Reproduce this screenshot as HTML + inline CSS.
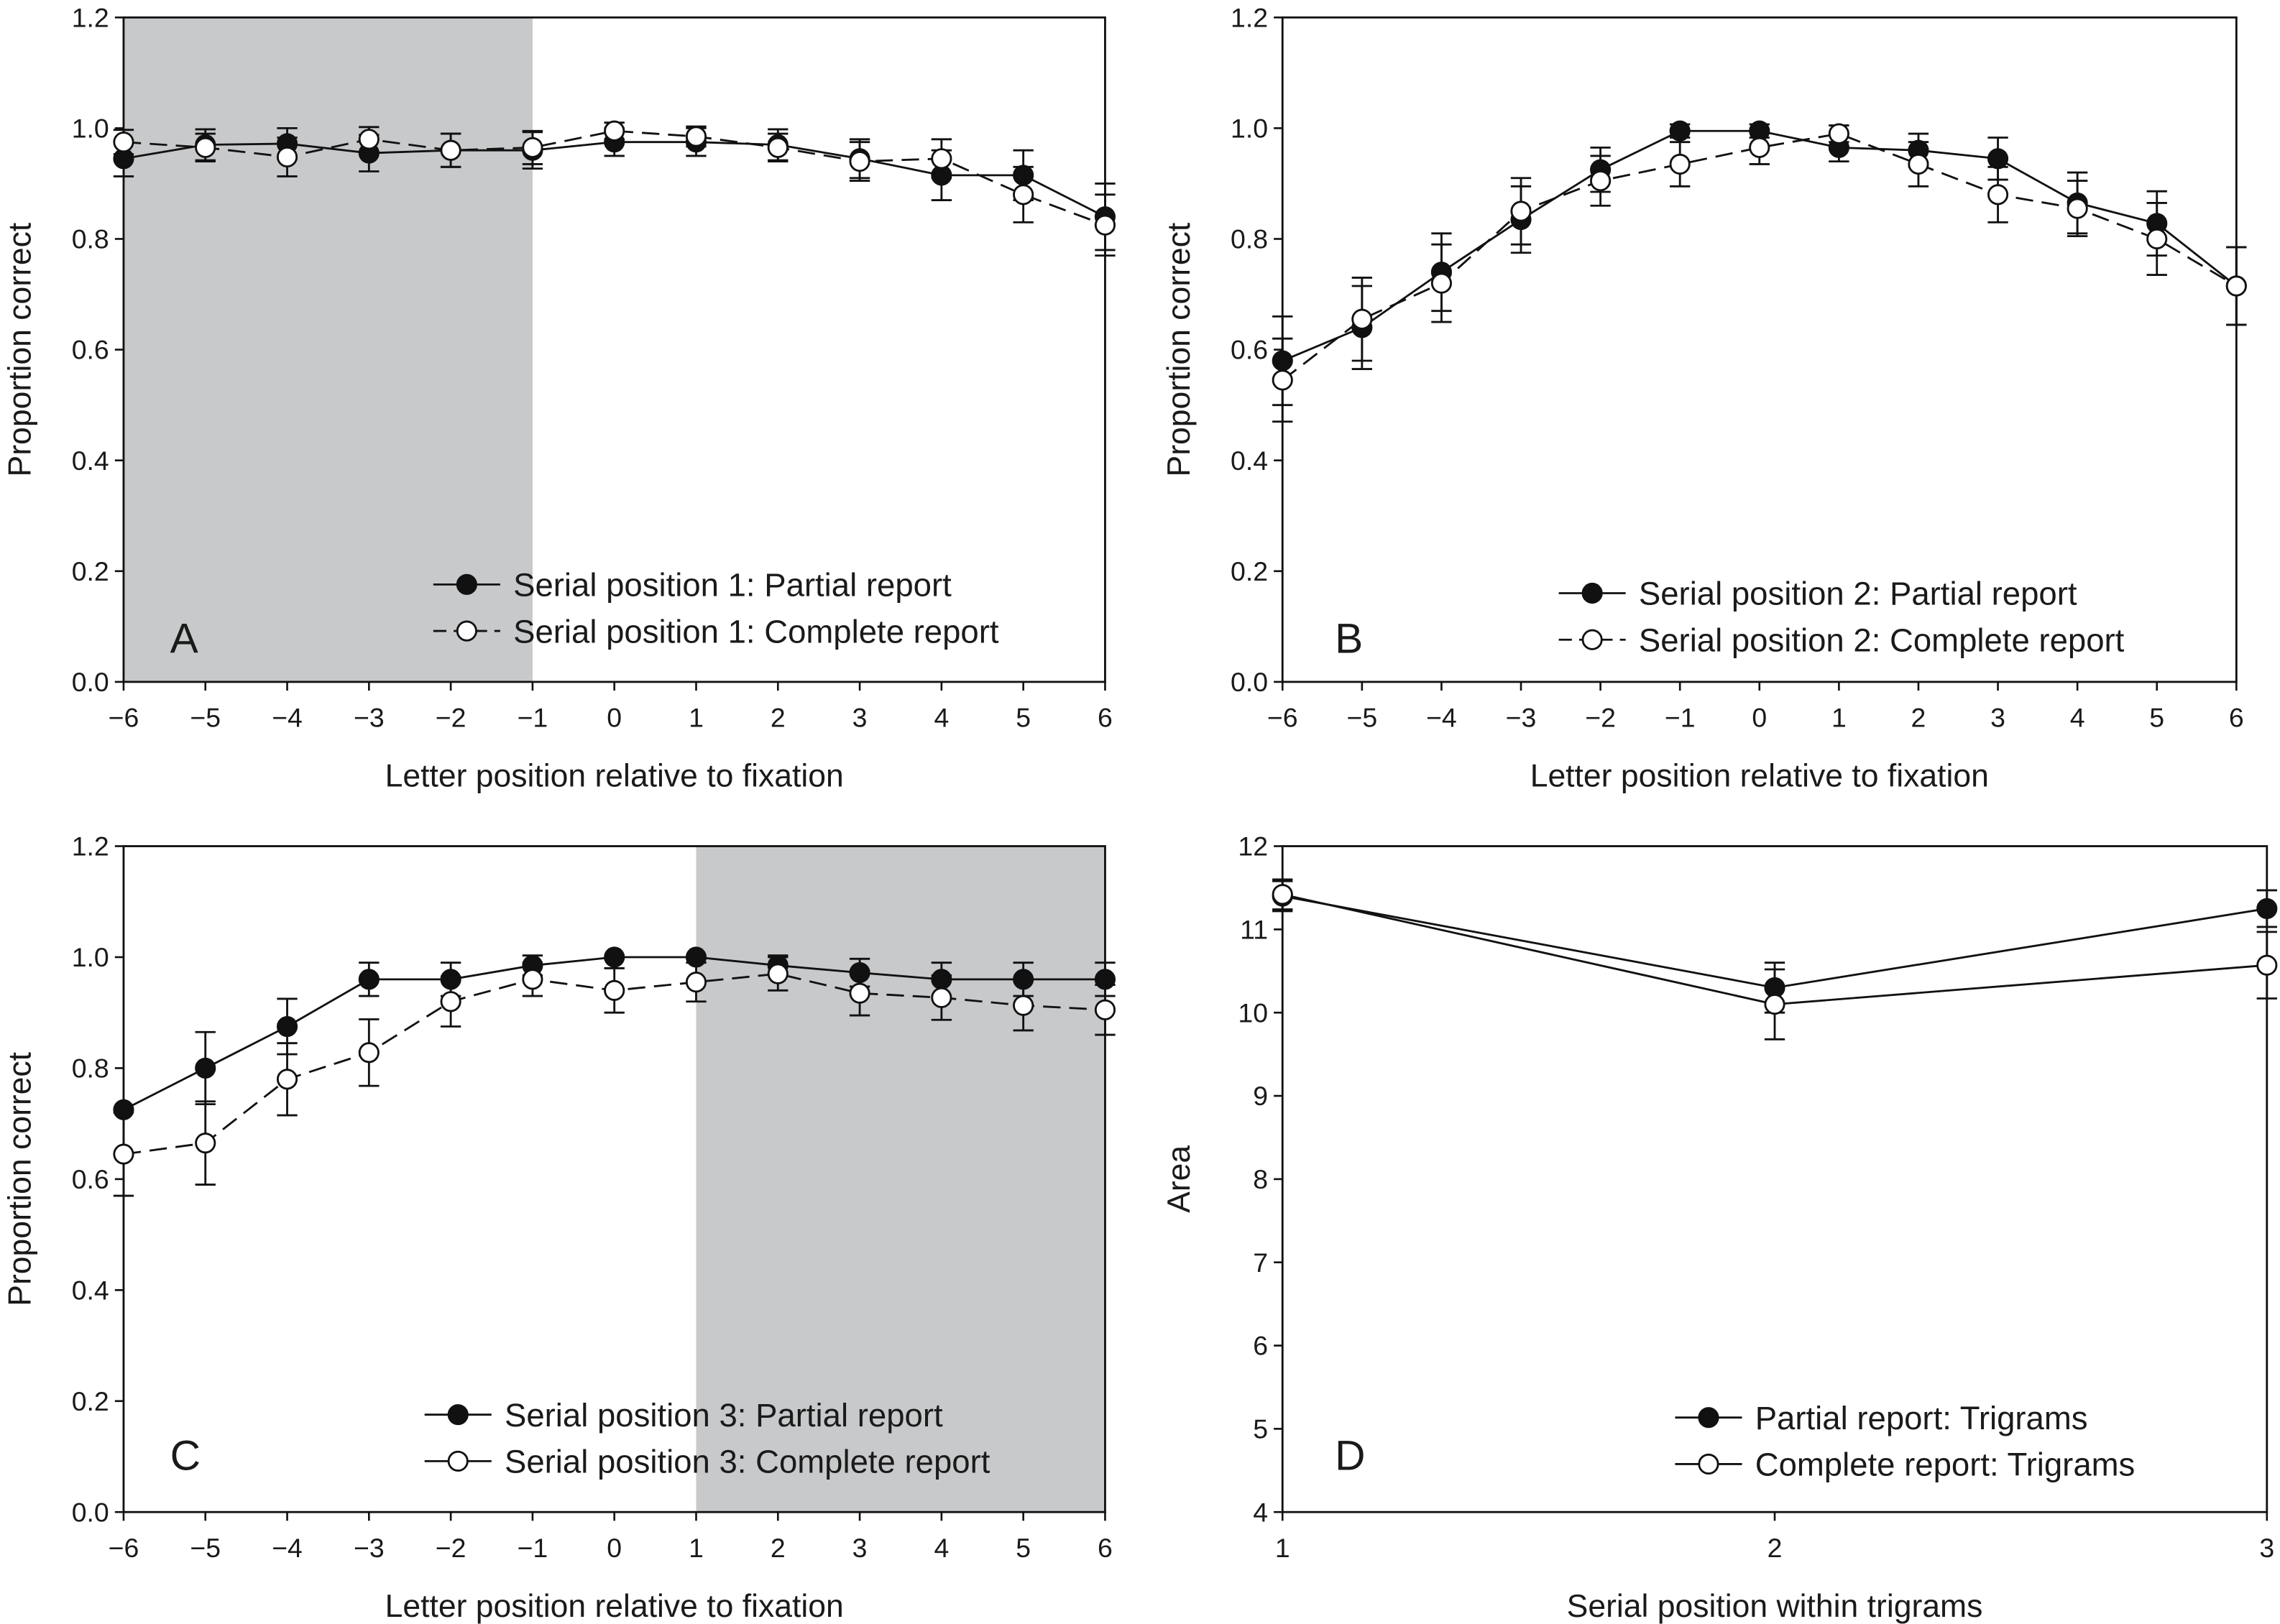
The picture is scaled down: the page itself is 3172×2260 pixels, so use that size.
<!DOCTYPE html>
<html><head><meta charset="utf-8"><style>
html,body{margin:0;padding:0;background:#fff;}
svg{display:block;}
text{font-family:"Liberation Sans",Arial,sans-serif;fill:#1a1a1a;}
</style></head>
<body>
<svg id="fig" width="3172" height="2260" viewBox="0 0 1568 1117" preserveAspectRatio="none" xmlns="http://www.w3.org/2000/svg"></svg>
<script>
// ---- data ----
const letterPositions = [-6,-5,-4,-3,-2,-1,0,1,2,3,4,5,6];
const propTicks = [0.0,0.2,0.4,0.6,0.8,1.0,1.2];
const propTickLabels = ["0.0","0.2","0.4","0.6","0.8","1.0","1.2"];
const letterTickLabels = ["\u22126","\u22125","\u22124","\u22123","\u22122","\u22121","0","1","2","3","4","5","6"];

const aPartial = [0.945,0.970,0.972,0.955,0.960,0.960,0.975,0.975,0.970,0.945,0.915,0.915,0.840];
const aPartialErr = [0.032,0.028,0.028,0.033,0.030,0.033,0.025,0.025,0.028,0.035,0.045,0.045,0.060];
const aComplete = [0.975,0.965,0.948,0.980,0.960,0.965,0.995,0.985,0.965,0.940,0.945,0.880,0.825];
const aCompleteErr = [0.022,0.025,0.035,0.022,0.030,0.030,0.015,0.018,0.025,0.035,0.035,0.050,0.055];

const bPartial = [0.580,0.640,0.740,0.835,0.925,0.995,0.995,0.965,0.960,0.945,0.865,0.828,0.715];
const bPartialErr = [0.080,0.075,0.070,0.060,0.040,0.012,0.012,0.025,0.030,0.038,0.055,0.058,0.070];
const bComplete = [0.545,0.655,0.720,0.850,0.905,0.935,0.965,0.990,0.935,0.880,0.855,0.800,0.715];
const bCompleteErr = [0.075,0.075,0.070,0.060,0.045,0.040,0.030,0.015,0.040,0.050,0.050,0.065,0.070];

const cPartial = [0.725,0.800,0.875,0.960,0.960,0.985,1.000,1.000,0.985,0.972,0.960,0.960,0.960];
const cPartialErr = [0.000,0.065,0.050,0.030,0.030,0.018,0.000,0.000,0.018,0.025,0.030,0.030,0.030];
const cComplete = [0.645,0.665,0.780,0.828,0.920,0.960,0.940,0.955,0.970,0.935,0.927,0.913,0.905];
const cCompleteErr = [0.075,0.075,0.065,0.060,0.045,0.030,0.040,0.035,0.030,0.040,0.040,0.045,0.045];

const trigramPositions = [1,2,3];
const areaTicks = [4,5,6,7,8,9,10,11,12];
const dPartial = [11.40,10.30,11.25];
const dPartialErr = [0.18,0.30,0.22];
const dComplete = [11.42,10.10,10.57];
const dCompleteErr = [0.18,0.42,0.40];

// ---- drawing ----
const NS = "http://www.w3.org/2000/svg";
const svg = document.getElementById('fig');
function mk(tag, attrs, parent){
  const e = document.createElementNS(NS, tag);
  for (const k in attrs) e.setAttribute(k, attrs[k]);
  (parent||svg).appendChild(e);
  return e;
}

function panel(cfg){
  const g = mk('g', {});
  
  
  const {x0,x1,y0,y1,xmin,xmax,ymin,ymax} = cfg;
  const sx = v => x0 + (v - xmin) / (xmax - xmin) * (x1 - x0);
  const sy = v => y1 - (v - ymin) / (ymax - ymin) * (y1 - y0);

  if (cfg.shade){
    const r = mk('rect', {x:sx(cfg.shade[0]), y:y0, width:sx(cfg.shade[1])-sx(cfg.shade[0]), height:y1-y0, fill:'#c8c9cb'}, g);
    
    
  }
  const frame = mk('rect', {x:x0, y:y0, width:x1-x0, height:y1-y0, fill:'none', stroke:'#111', 'stroke-width':1.4}, g);
  
  

  cfg.yticks.forEach((t,i) => {
    mk('line', {x1:x0-6, x2:x0, y1:sy(t), y2:sy(t), stroke:'#111', 'stroke-width':1.3}, g);
    const tx = mk('text', {x:x0-10, y:sy(t)+6.5, 'text-anchor':'end', 'font-size':18.5}, g);
    tx.textContent = cfg.ylabels[i];
    
    
  });
  cfg.xticks.forEach((t,i) => {
    mk('line', {x1:sx(t), x2:sx(t), y1:y1, y2:y1+6, stroke:'#111', 'stroke-width':1.3}, g);
    const tx = mk('text', {x:sx(t), y:y1+31, 'text-anchor':'middle', 'font-size':18.5}, g);
    tx.textContent = cfg.xlabels[i];
    
    
  });
  const xt = mk('text', {x:(x0+x1)/2, y:y1+72, 'text-anchor':'middle', 'font-size':22}, g);
  xt.textContent = cfg.xtitle;
  
  
  const ytx = x0 - 64, yty = (y0+y1)/2;
  const yt = mk('text', {x:ytx, y:yty, 'text-anchor':'middle', 'font-size':22, transform:`rotate(-90 ${ytx} ${yty})`}, g);
  yt.textContent = cfg.ytitle;
  
  

  cfg.series.forEach(s => {
    const sg = mk('g', {}, g);
    
    
    const pts = cfg.xs.map((xv,i) => [sx(xv), sy(s.vals[i])]);
    const line = mk('polyline', {points:pts.map(p=>p.join(',')).join(' '), fill:'none', stroke:'#111', 'stroke-width':1.4, 'stroke-dasharray':s.dash||'none'}, sg);
    
    
    cfg.xs.forEach((xv,i) => {
      const e = s.err[i];
      if (e > 0){
        const px = sx(xv), ya = sy(s.vals[i]+e), yb = sy(s.vals[i]-e);
        const eb = mk('path', {d:`M${px},${ya}V${yb}M${px-7},${ya}H${px+7}M${px-7},${yb}H${px+7}`, stroke:'#111', 'stroke-width':1.4, fill:'none'}, sg);
        
        
      }
    });
    pts.forEach(p => {
      const c = mk('circle', {cx:p[0], cy:p[1], r:6.5, fill:s.filled?'#111':'#fff', stroke:'#111', 'stroke-width':1.4}, sg);
      
      
    });
  });

  const lg = mk('g', {}, g);
  
  
  cfg.series.forEach((s,i) => {
    const ly = cfg.legend[1] + i*32;
    const lx = cfg.legend[0];
    const ent = mk('g', {}, lg);
    
    
    mk('line', {x1:lx, x2:lx+46, y1:ly, y2:ly, stroke:'#111', 'stroke-width':1.4, 'stroke-dasharray':s.legendDash||'none'}, ent);
    mk('circle', {cx:lx+23, cy:ly, r:6.5, fill:s.filled?'#111':'#fff', stroke:'#111', 'stroke-width':1.4}, ent);
    const t = mk('text', {x:lx+55, y:ly+8, 'font-size':22.5}, ent);
    t.textContent = s.label;
  });
  const pl = mk('text', {x:cfg.letter[0], y:cfg.letter[1], 'font-size':29}, g);
  pl.textContent = cfg.letterText;
  
  
}

const common = {xmin:-6,xmax:6,ymin:0,ymax:1.2,xs:letterPositions,yticks:propTicks,ylabels:propTickLabels,xticks:letterPositions,xlabels:letterTickLabels,xtitle:'Letter position relative to fixation',ytitle:'Proportion correct'};

panel(Object.assign({}, common, {name:'panel-a', x0:85,x1:760,y0:12,y1:469, shade:[-6,-1],
  series:[
    {name:'series-partial-sp1', vals:aPartial, err:aPartialErr, filled:true, label:'Serial position 1: Partial report'},
    {name:'series-complete-sp1', vals:aComplete, err:aCompleteErr, filled:false, dash:'12,6', legendDash:'9,5', label:'Serial position 1: Complete report'}],
  legend:[298,402], letter:[117,449], letterText:'A'}));

panel(Object.assign({}, common, {name:'panel-b', x0:882,x1:1538,y0:12,y1:469,
  series:[
    {name:'series-partial-sp2', vals:bPartial, err:bPartialErr, filled:true, label:'Serial position 2: Partial report'},
    {name:'series-complete-sp2', vals:bComplete, err:bCompleteErr, filled:false, dash:'12,6', legendDash:'9,5', label:'Serial position 2: Complete report'}],
  legend:[1072,408], letter:[918,449], letterText:'B'}));

panel(Object.assign({}, common, {name:'panel-c', x0:85,x1:760,y0:582,y1:1040, shade:[1,6],
  series:[
    {name:'series-partial-sp3', vals:cPartial, err:cPartialErr, filled:true, label:'Serial position 3: Partial report'},
    {name:'series-complete-sp3', vals:cComplete, err:cCompleteErr, filled:false, dash:'12,6', label:'Serial position 3: Complete report'}],
  legend:[292,973], letter:[117,1011], letterText:'C'}));

panel({name:'panel-d', x0:882,x1:1559,y0:582,y1:1040, xmin:1,xmax:3,ymin:4,ymax:12, xs:trigramPositions,
  yticks:areaTicks, ylabels:areaTicks.map(String), xticks:trigramPositions, xlabels:trigramPositions.map(String),
  xtitle:'Serial position within trigrams', ytitle:'Area',
  series:[
    {name:'series-partial-trigrams', vals:dPartial, err:dPartialErr, filled:true, label:'Partial report: Trigrams'},
    {name:'series-complete-trigrams', vals:dComplete, err:dCompleteErr, filled:false, label:'Complete report: Trigrams'}],
  legend:[1152,975], letter:[918,1011], letterText:'D'});
</script>
</body></html>
